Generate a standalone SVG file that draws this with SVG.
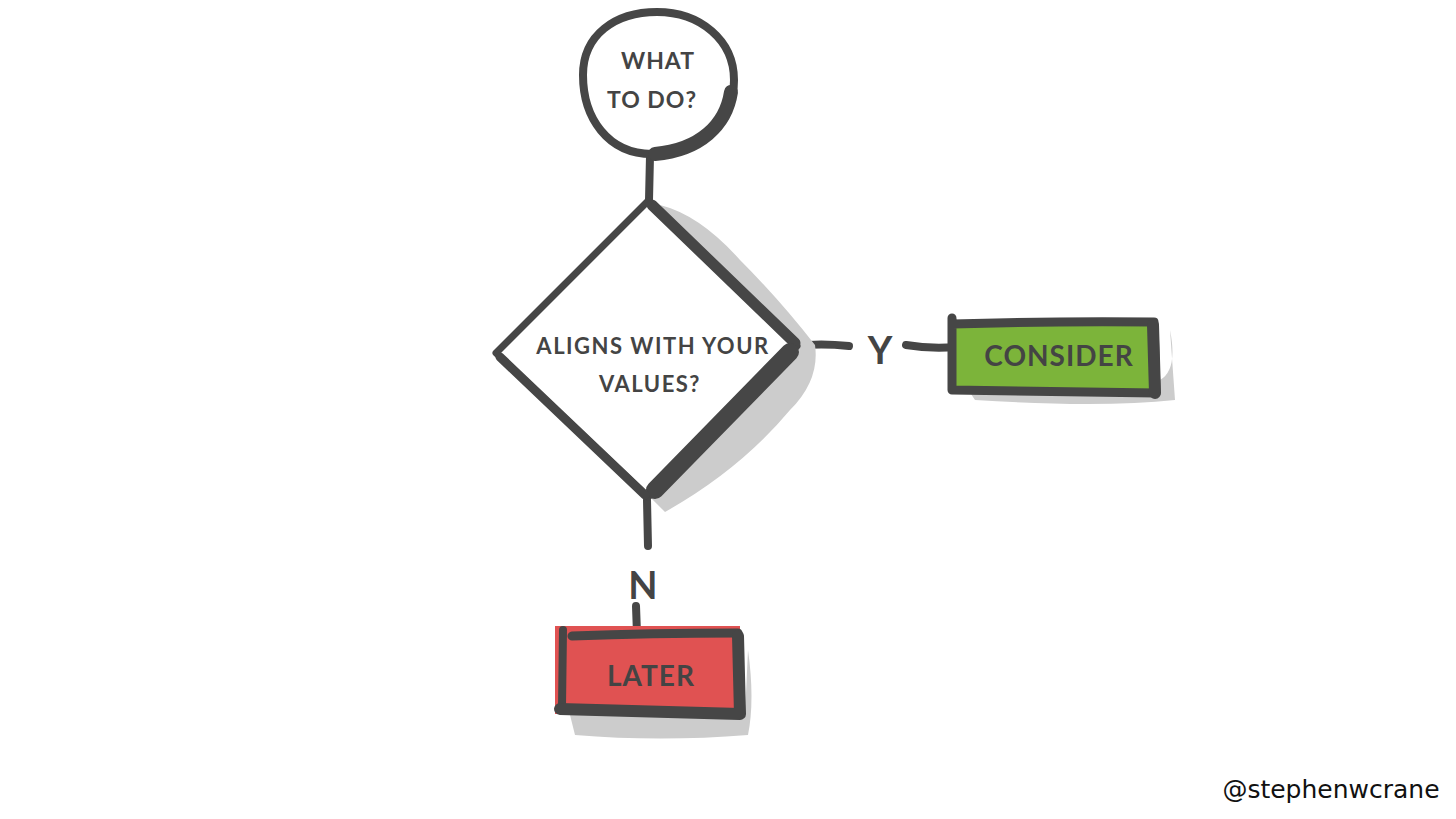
<svg xmlns="http://www.w3.org/2000/svg" width="1456" height="819" viewBox="0 0 1456 819">
<style>
.ink{fill:none;stroke:#464646;stroke-linecap:round;stroke-linejoin:round}
.shadow{fill:#cccccc;stroke:none}
.lbl{font-family:"Lato","Liberation Sans",sans-serif;font-weight:700;fill:#444444;text-anchor:middle}
</style>
<rect width="1456" height="819" fill="#ffffff"/>
<g id="connectors">
<path class="ink" stroke-width="8" d="M650,156 L649,200"/>
<path class="ink" stroke-width="8" d="M796,346 Q820,343 849,346"/>
<path class="ink" stroke-width="8" d="M906,345 Q930,349 956,347"/>
<path class="ink" stroke-width="8" d="M647,500 L648,546"/>
<path class="ink" stroke-width="8" d="M636,606 L637,634"/>
<text class="lbl" x="880" y="364" font-size="38">Y</text>
<text class="lbl" x="643" y="599" font-size="38">N</text>
</g>
<g id="start">
<path class="ink" stroke-width="8" fill="#fff" d="M583,75 C583,35 615,12 657,12 C700,12 734,40 734,80 C734,122 700,154 652,154 C608,154 583,118 583,75 Z"/>
<path class="ink" stroke-width="14" d="M731,92 C726,125 700,150 655,154"/>
<text class="lbl" x="658" y="69" font-size="23" letter-spacing="1">WHAT</text>
<text class="lbl" x="652" y="108" font-size="23" letter-spacing="1">TO DO?</text>
</g>
<g id="decision">
<path class="shadow" d="M660,205 Q700,215 740,260 Q780,300 815,345 Q820,380 790,410 Q740,470 665,512 L650,497 L795,348 Z"/>
<path class="ink" stroke-width="7" fill="#fff" d="M648,201 L797,346 L648,497 L496,353 Z"/>
<path class="ink" stroke-width="11" d="M652,205 L795,343"/>
<path class="ink" stroke-width="18" d="M790,352 L655,490"/>
<path class="ink" stroke-width="9" d="M500,357 L645,495"/>
<text class="lbl" x="653" y="354" font-size="22" letter-spacing="1.5">ALIGNS WITH YOUR</text>
<text class="lbl" x="650" y="392" font-size="22" letter-spacing="1.5">VALUES?</text>
</g>
<g id="consider">
<path class="shadow" d="M965,385 L1160,380 Q1178,370 1170,330 L1175,400 Q1100,408 975,400 Z"/>
<rect x="952" y="320" width="203" height="71" fill="#7cb43a"/>
<path class="ink" stroke-width="9" d="M952,318 L952,390 L1156,393 L1154,322 Q1050,321 952,324"/>
<path class="ink" stroke-width="12" d="M1153,325 L1155,393"/>
<text class="lbl" x="1059" y="366" font-size="28" letter-spacing="1">CONSIDER</text>
</g>
<g id="later">
<path class="shadow" d="M570,715 L745,715 L748,650 Q755,700 748,735 Q660,742 575,735 Z"/>
<rect x="555" y="626" width="185" height="88" fill="#e05252"/>
<path class="ink" stroke-width="8" d="M563,630 L562,706"/>
<path class="ink" stroke-width="9" d="M572,636 Q650,633 738,633"/>
<path class="ink" stroke-width="12" d="M560,709 L740,714 L738,636"/>
<text class="lbl" x="651" y="686" font-size="28" letter-spacing="1">LATER</text>
</g>
<text x="1331" y="798" font-family="'DejaVu Sans',sans-serif" font-size="25" fill="#111" text-anchor="middle">@stephenwcrane</text>
</svg>
